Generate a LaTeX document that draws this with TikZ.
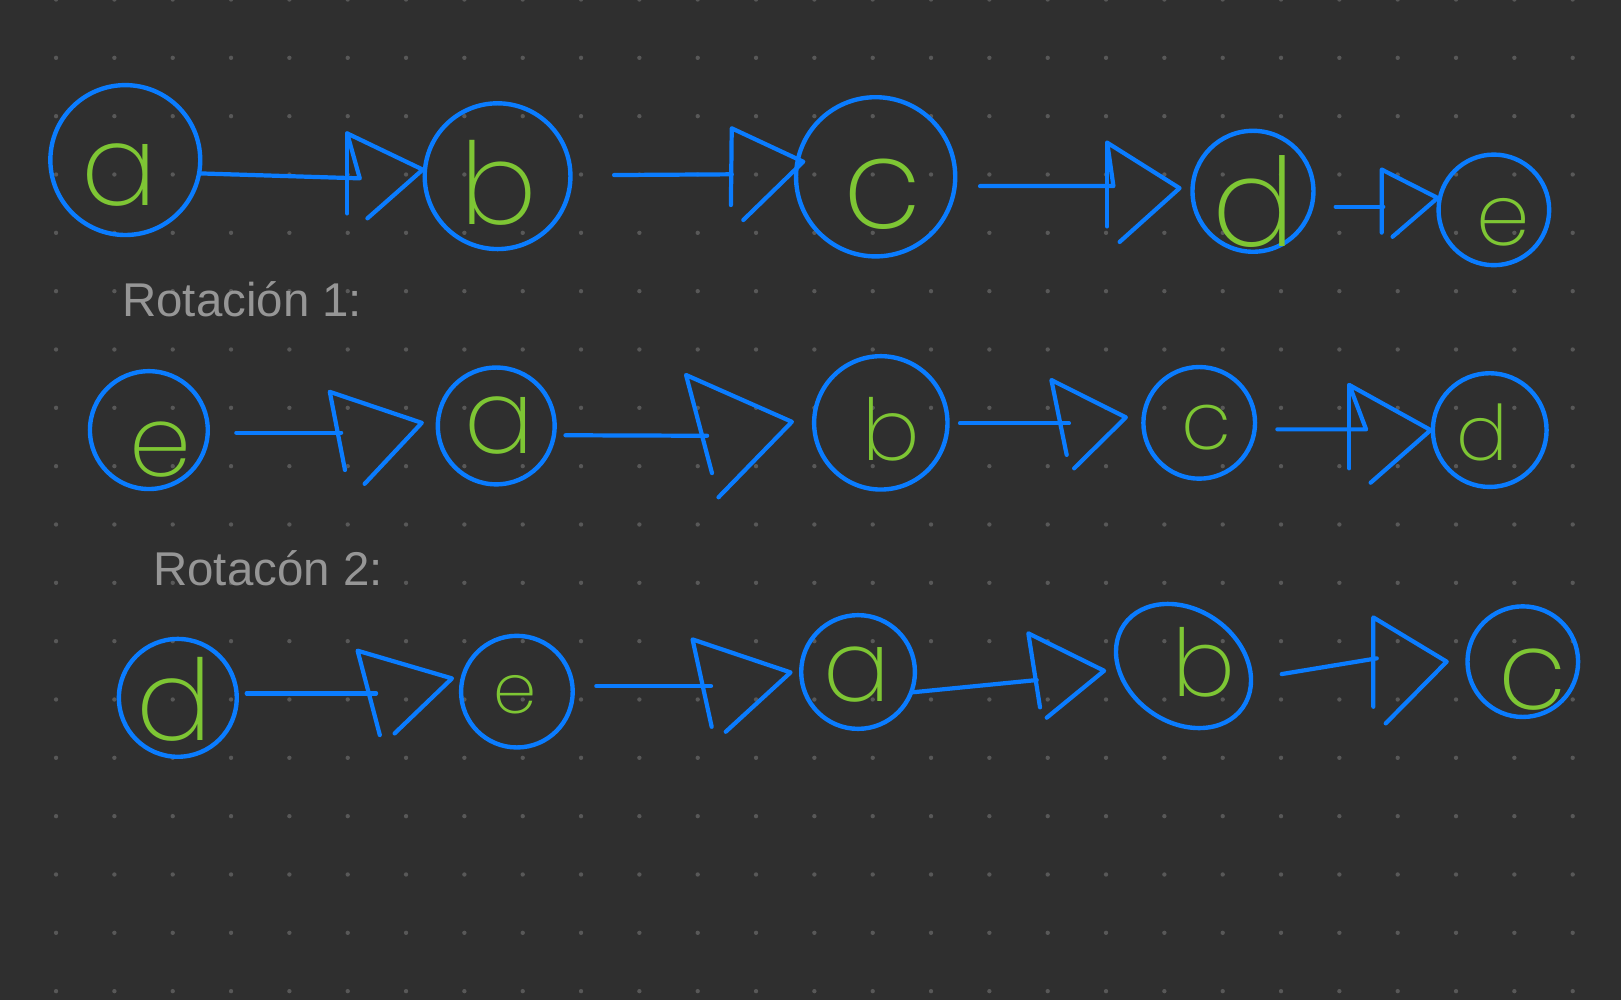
\documentclass[tikz,border=0pt]{standalone}
\usepackage{fontspec}
\setmainfont{Liberation Sans}
\newfontfamily\hand{Poppins ExtraLight}
\usetikzlibrary{shapes.geometric}
\definecolor{bg}{RGB}{47,47,47}
\definecolor{dotc}{RGB}{88,88,88}
\definecolor{nblue}{RGB}{10,124,255}
\definecolor{lgreen}{RGB}{126,198,52}
\definecolor{lblgray}{RGB}{150,150,150}
\newcommand\upx{0.010338cm}
\begin{document}
\begin{tikzpicture}[x=0.010338cm,y=-0.010338cm,
  ring/.style={circle,draw=nblue,line width=1.25pt,inner sep=0pt,minimum size=#1*\upx},
  ltr/.style={text=lgreen,inner sep=0pt,font=\hand\fontsize{#1}{#1}\selectfont},
  arr/.style={draw=nblue,line width=1.2pt,line cap=round,line join=round},
  lbl/.style={anchor=base west,inner sep=0pt,text=lblgray,font=\fontsize{13.5}{15}\selectfont}]
\fill[bg] (0,0) rectangle (1568,967);
\useasboundingbox (0,0) rectangle (1568,967);
\foreach \i in {0,...,27} {
  \foreach \j in {0,...,17} {
    \fill[dotc] ({\i*56.424-2.2},{\j*56.424-0.5}) circle (0.62pt);
  }
}
% ---------- row 1
\node[ring=145] (a1) at (121.2,154.8) {};
\node[ring=141] (b1) at (481.3,170.4) {};
\node[ring=154] (c1) at (847,171) {};
\node[ring=117] (d1) at (1212,185) {};
\node[ring=107] (e1) at (1445,203) {};
\node[ltr=32] (la1) at (115,169) {a};
\node[ltr=32.4] (lb1) at (482,177) {b};
\node[ltr=36] (lc1) at (854,188) {c};
\node[ltr=35] (ld1) at (1213,195) {d};
\node[ltr=24.4] (le1) at (1454,215) {e};
\node[lbl] (rot1) at (117.7,305.7) {Rotación 1:};
% ---------- row 2
\node[ring=114] (e2) at (144,416) {};
\node[ring=113] (a2) at (480,412) {};
\node[ring=129] (b2) at (852,409) {};
\node[ring=108] (c2) at (1160,409) {};
\node[ring=110] (d2) at (1441,416) {};
\node[ltr=28.3] (le2) at (155,435) {e};
\node[ltr=29.4] (la2) at (483,412) {a};
\node[ltr=24.3] (lb2) at (862,415) {b};
\node[ltr=23] (lc2) at (1167,414) {c};
\node[ltr=21.8] (ld2) at (1434,418) {d};
\node[lbl] (rot2) at (147.7,565.9) {Rotacón 2:};
% ---------- row 3
\node[ring=114] (d3) at (172,675) {};
\node[ring=108] (e3) at (500,669) {};
\node[ring=110] (a3) at (830,650) {};
\node[ellipse,draw=nblue,line width=1.25pt,inner sep=0pt,minimum width=140*\upx,minimum height=109*\upx,rotate=-35] (b3) at (1144.8,644.2) {};
\node[ring=107] (c3) at (1473,640) {};
\node[ltr=32] (ld3) at (169,676) {d};
\node[ltr=19.7] (le3) at (498,672) {e};
\node[ltr=28.3] (la3) at (829,652) {a};
\node[ltr=26.6] (lb3) at (1165,641) {b};
\node[ltr=31.4] (lc3) at (1483,657) {c};
% ---------- arrows row 1
\coordinate (eA1) at (348,172.5); \coordinate (tA1) at (335.8,129);
\coordinate (vA1) at (335.8,206.4); \coordinate (lA1) at (355.4,211.2);
\draw[arr] (a1.-10) -- (eA1) -- (tA1) -- (b1.175) -- (lA1);
\draw[arr] (tA1) -- (vA1);

\coordinate (sA2) at (594,169.3); \coordinate (eA2) at (707.8,168.6);
\coordinate (tA2) at (707.8,124.1); \coordinate (vA2) at (707,198.3);
\coordinate (pA2) at (777,156.4); \coordinate (lA2) at (719,212.8);
\draw[arr] (sA2) -- (eA2);
\draw[arr] (vA2) -- (tA2) -- (pA2) -- (lA2);

\coordinate (sA3) at (948,180); \coordinate (eA3) at (1077,180);
\coordinate (tA3) at (1071,138); \coordinate (vA3) at (1071,219);
\coordinate (pA3) at (1141,182); \coordinate (lA3) at (1083,234);
\draw[arr] (sA3) -- (eA3) -- (tA3) -- (pA3) -- (lA3);
\draw[arr] (tA3) -- (vA3);

\coordinate (sA4) at (1292,200); \coordinate (eA4) at (1338,200);
\coordinate (tA4) at (1336.5,164); \coordinate (vA4) at (1336.5,225);
\coordinate (lA4) at (1347,229);
\draw[arr] (sA4) -- (eA4);
\draw[arr] (vA4) -- (tA4) -- (e1.168) -- (lA4);
% ---------- arrows row 2
\coordinate (sB1) at (228.6,418.5); \coordinate (eB1) at (330,418.5);
\coordinate (tB1) at (319,379); \coordinate (vB1) at (333.7,454.6);
\coordinate (pB1) at (408,409); \coordinate (lB1) at (352.7,468);
\draw[arr] (sB1) -- (eB1);
\draw[arr] (vB1) -- (tB1) -- (pB1) -- (lB1);

\coordinate (sB2) at (547,421); \coordinate (eB2) at (684,421.5);
\coordinate (tB2) at (663.6,362.7); \coordinate (vB2) at (688.7,457.6);
\coordinate (pB2) at (766,408); \coordinate (lB2) at (695,481);
\draw[arr] (sB2) -- (eB2);
\draw[arr] (vB2) -- (tB2) -- (pB2) -- (lB2);

\coordinate (sB3) at (928.6,409.5); \coordinate (eB3) at (1034,409.5);
\coordinate (tB3) at (1017,367.6); \coordinate (vB3) at (1031.8,440);
\coordinate (pB3) at (1089,403.7); \coordinate (lB3) at (1039,453);
\draw[arr] (sB3) -- (eB3);
\draw[arr] (vB3) -- (tB3) -- (pB3) -- (lB3);

\coordinate (sB4) at (1235.6,415.3); \coordinate (eB4) at (1321.4,415.3);
\coordinate (tB4) at (1305.2,372.4); \coordinate (vB4) at (1305.2,453);
\coordinate (lB4) at (1325.8,466.9);
\draw[arr] (sB4) -- (eB4) -- (tB4) -- (d2.west) -- (lB4);
\draw[arr] (tB4) -- (vB4);
% ---------- arrows row 3
\coordinate (sC1) at (238.6,670.7); \coordinate (eC1) at (363.8,670.7);
\coordinate (tC1) at (345.9,629.4); \coordinate (vC1) at (367.4,711);
\coordinate (pC1) at (437.2,656.2); \coordinate (lC1) at (381.7,709.4);
\draw[arr] (sC1) -- (eC1);
\draw[arr] (vC1) -- (tC1) -- (pC1) -- (lC1);

\coordinate (sC2) at (576.8,663.6); \coordinate (eC2) at (687.8,663.6);
\coordinate (tC2) at (669.9,618.5); \coordinate (vC2) at (688.4,703);
\coordinate (pC2) at (764.7,650.4); \coordinate (lC2) at (702,707.8);
\draw[arr] (sC2) -- (eC2);
\draw[arr] (vC2) -- (tC2) -- (pC2) -- (lC2);

\coordinate (eC3) at (1002.8,657.8);
\coordinate (tC3) at (994.7,612.6); \coordinate (vC3) at (1006,684.2);
\coordinate (pC3) at (1068,648.8); \coordinate (lC3) at (1012.5,694.2);
\draw[arr] (a3.-20) -- (eC3);
\draw[arr] (vC3) -- (tC3) -- (pC3) -- (lC3);

\coordinate (sC4) at (1239.8,652); \coordinate (eC4) at (1331.7,636.8);
\coordinate (tC4) at (1328.4,597.2); \coordinate (vC4) at (1328.4,683.6);
\coordinate (pC4) at (1399.4,640); \coordinate (lC4) at (1340.4,699.7);
\draw[arr] (sC4) -- (eC4);
\draw[arr] (vC4) -- (tC4) -- (pC4) -- (lC4);
\end{tikzpicture}
\end{document}
